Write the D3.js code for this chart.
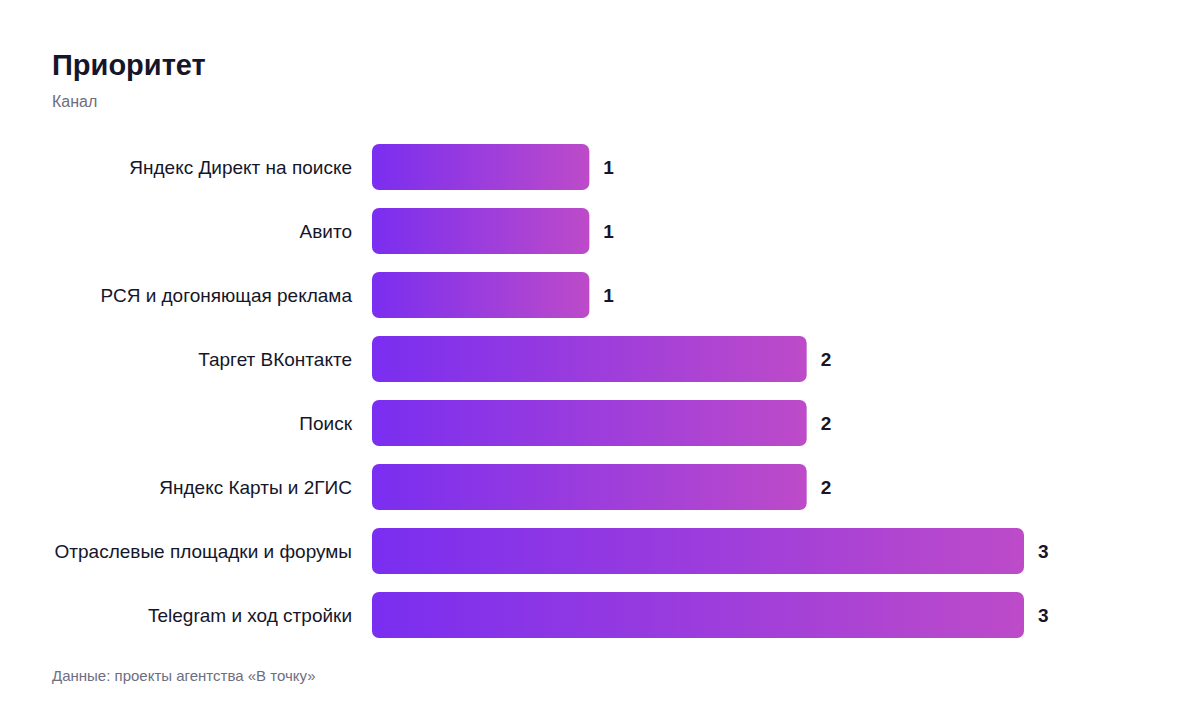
<!DOCTYPE html>
<html><head><meta charset="utf-8">
<script src="https://cdn.jsdelivr.net/npm/d3@7"></script>
<style>
html,body{margin:0;padding:0;background:#fff;}
svg{display:block;font-family:"Liberation Sans",Arial,Helvetica,sans-serif;}
</style></head>
<body><svg id="c" width="1200" height="712"></svg>
<script>
const categories = ["Яндекс Директ на поиске","Авито","РСЯ и догоняющая реклама","Таргет ВКонтакте","Поиск","Яндекс Карты и 2ГИС","Отраслевые площадки и форумы","Telegram и ход стройки"];
const values = [1,1,1,2,2,2,3,3];
const title = "Приоритет";
const subtitle = "Канал";
const source = "Данные: проекты агентства «В точку»";

const svg = d3.select("#c");
const defs = svg.append("defs");
const g1 = defs.append("linearGradient").attr("id","grad").attr("x1","0").attr("x2","1").attr("y1","0").attr("y2","0");
g1.append("stop").attr("offset","0%").attr("stop-color","#7a2ef0");
g1.append("stop").attr("offset","100%").attr("stop-color","#bd4bc9");

svg.append("text").attr("x",52).attr("y",75).attr("font-size",29).attr("font-weight",700).attr("fill","#16162a").text(title);
svg.append("text").attr("x",52).attr("y",107).attr("font-size",16).attr("fill","#6e6e80").text(subtitle);
svg.append("text").attr("x",52).attr("y",681).attr("font-size",15).attr("fill","#6e6e80").text(source);

const x = d3.scaleLinear().domain([0,3]).range([372,1024]);
const y = d3.scaleBand().domain(categories).range([135,647]).paddingInner(0.28).paddingOuter(0.14);

const data = categories.map((c,i)=>({c,v:values[i]}));
svg.append("g").selectAll("rect").data(data).join("rect")
  .attr("x",x(0)).attr("y",d=>y(d.c)).attr("width",d=>x(d.v)-x(0)).attr("height",y.bandwidth())
  .attr("rx",7).attr("fill","url(#grad)");

svg.append("g").selectAll("text").data(data).join("text")
  .attr("x",352).attr("y",d=>y(d.c)+y.bandwidth()/2).attr("dy","0.35em")
  .attr("text-anchor","end").attr("font-size",19).attr("fill","#16162a").text(d=>d.c);

svg.append("g").selectAll("text").data(data).join("text")
  .attr("x",d=>x(d.v)+14).attr("y",d=>y(d.c)+y.bandwidth()/2).attr("dy","0.35em")
  .attr("font-size",19).attr("font-weight",700).attr("fill","#16162a").text(d=>d.v);
</script></body></html>
